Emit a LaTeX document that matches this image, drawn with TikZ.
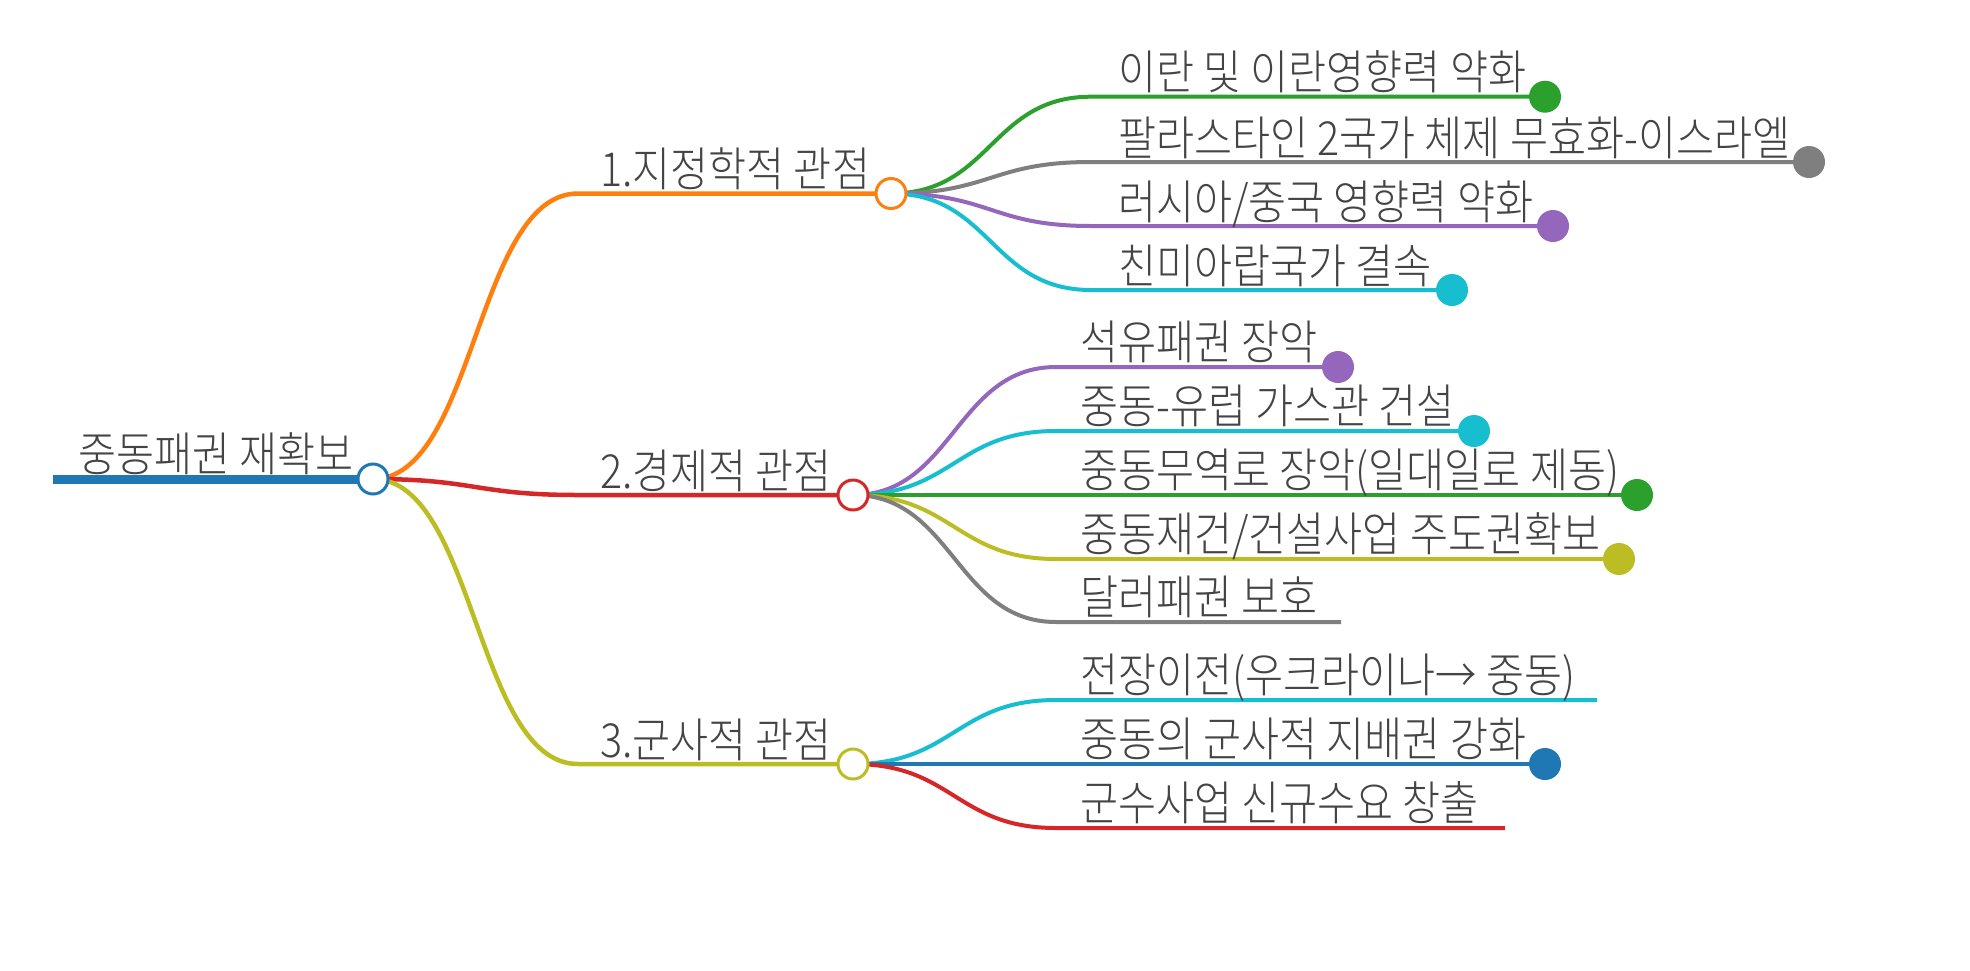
\documentclass[tikz,border=0pt]{standalone}
\usepackage{fontspec}
\IfFontExistsTF{Noto Sans CJK KR Light}
  {\setmainfont{Noto Sans CJK KR Light}[FakeStretch=0.88]}
  {\setmainfont{Noto Sans CJK KR}[FakeStretch=0.88]}
\definecolor{cblue}{HTML}{1F77B4}
\definecolor{corange}{HTML}{FF7F0E}
\definecolor{cgreen}{HTML}{2CA02C}
\definecolor{cred}{HTML}{D62728}
\definecolor{cpurple}{HTML}{9467BD}
\definecolor{cgray}{HTML}{7F7F7F}
\definecolor{colive}{HTML}{BCBD22}
\definecolor{ccyan}{HTML}{17BECF}
\definecolor{txt}{HTML}{444444}
\pgfdeclarelayer{bg}
\pgfsetlayers{bg,main}
\tikzset{
  hub/.style={circle, draw=#1, fill=white, line width=3pt, minimum size=30pt, inner sep=0pt},
  enddot/.style={circle, fill=#1, minimum size=32pt, inner sep=0pt},
  lbl/.style={anchor=base west, inner sep=0pt, text=txt, font=\fontsize{47}{50}\selectfont},
  branch/.style={draw=#1, line width=4.5pt},
  twig/.style={draw=#1, line width=4pt},
}
\begin{document}
\begin{tikzpicture}[x=1pt,y=-1pt]
\useasboundingbox (0,0) rectangle (1970,970);

% hubs
\node[hub=cblue] (root) at (373,479) {};
\node[hub=corange] (b1) at (891,193.5) {};
\node[hub=cred] (b2) at (853,495) {};
\node[hub=colive] (b3) at (853,764) {};

% root
\coordinate (rs) at (53,479);
\node[lbl] (troot) at (78,471) {중동패권 재확보};

% branch corners
\coordinate (h1) at (578,193.5);
\coordinate (h2) at (578,495);
\coordinate (h3) at (578,764);
\node[lbl] (t1) at (600,186) {1.지정학적 관점};
\node[lbl] (t2) at (600,488) {2.경제적 관점};
\node[lbl] (t3) at (600,757) {3.군사적 관점};

% branch 1 children
\coordinate (c11) at (1091,96.7);
\coordinate (c12) at (1091,162);
\coordinate (c13) at (1091,226);
\coordinate (c14) at (1091,290);
\node[enddot=cgreen] (e11) at (1545,96.7) {};
\node[enddot=cgray] (e12) at (1809,162) {};
\node[enddot=cpurple] (e13) at (1553,226) {};
\node[enddot=ccyan] (e14) at (1452,290) {};
\node[lbl] at (1118,89.7) {이란 및 이란영향력 약화};
\node[lbl] at (1118,155) {팔라스타인 2국가 체제 무효화-이스라엘};
\node[lbl] at (1118,219) {러시아/중국 영향력 약화};
\node[lbl] at (1118,283) {친미아랍국가 결속};

% branch 2 children
\coordinate (c21) at (1056,367);
\coordinate (c22) at (1056,431);
\coordinate (c23) at (1056,495);
\coordinate (c24) at (1056,559);
\coordinate (c25) at (1056,622);
\node[enddot=cpurple] (e21) at (1338,367) {};
\node[enddot=ccyan] (e22) at (1474,431) {};
\node[enddot=cgreen] (e23) at (1637,495) {};
\node[enddot=colive] (e24) at (1619,559) {};
\coordinate (e25) at (1341,622);
\node[lbl] at (1080,359) {석유패권 장악};
\node[lbl] at (1080,423) {중동-유럽 가스관 건설};
\node[lbl] at (1080,487) {중동무역로 장악(일대일로 제동)};
\node[lbl] at (1080,551) {중동재건/건설사업 주도권확보};
\node[lbl] at (1080,614) {달러패권 보호};

% branch 3 children
\coordinate (c31) at (1056,700);
\coordinate (c32) at (1056,764);
\coordinate (c33) at (1056,828);
\coordinate (e31) at (1597,700);
\node[enddot=cblue] (e32) at (1545,764) {};
\coordinate (e33) at (1505,828);
\node[lbl] at (1080,692) {전장이전(우크라이나→ 중동)};
\node[lbl] at (1080,756) {중동의 군사적 지배권 강화};
\node[lbl] at (1080,820) {군수사업 신규수요 창출};

\begin{pgfonlayer}{bg}
\fill[white] (0,0) rectangle (1970,970);
\draw[draw=cblue, line width=9pt] (rs) -- (root.center);
\draw[branch=corange] (root.center) .. controls +(102,0) and +(-102,0) .. (h1) -- (b1.center);
\draw[branch=cred] (root.center) .. controls +(102,0) and +(-102,0) .. (h2) -- (b2.center);
\draw[branch=colive] (root.center) .. controls +(102,0) and +(-102,0) .. (h3) -- (b3.center);

\draw[twig=cgreen] (b1.center) .. controls +(100,0) and +(-100,0) .. (c11) -- (e11.center);
\draw[twig=cgray] (b1.center) .. controls +(100,0) and +(-100,0) .. (c12) -- (e12.center);
\draw[twig=cpurple] (b1.center) .. controls +(100,0) and +(-100,0) .. (c13) -- (e13.center);
\draw[twig=ccyan] (b1.center) .. controls +(100,0) and +(-100,0) .. (c14) -- (e14.center);

\draw[twig=cpurple] (b2.center) .. controls +(100,0) and +(-100,0) .. (c21) -- (e21.center);
\draw[twig=ccyan] (b2.center) .. controls +(100,0) and +(-100,0) .. (c22) -- (e22.center);
\draw[twig=cgreen] (b2.center) -- (c23) -- (e23.center);
\draw[twig=colive] (b2.center) .. controls +(100,0) and +(-100,0) .. (c24) -- (e24.center);
\draw[twig=cgray] (b2.center) .. controls +(100,0) and +(-100,0) .. (c25) -- (e25);

\draw[twig=ccyan] (b3.center) .. controls +(100,0) and +(-100,0) .. (c31) -- (e31);
\draw[twig=cblue] (b3.center) -- (c32) -- (e32.center);
\draw[twig=cred] (b3.center) .. controls +(100,0) and +(-100,0) .. (c33) -- (e33);
\end{pgfonlayer}
\end{tikzpicture}
\end{document}
